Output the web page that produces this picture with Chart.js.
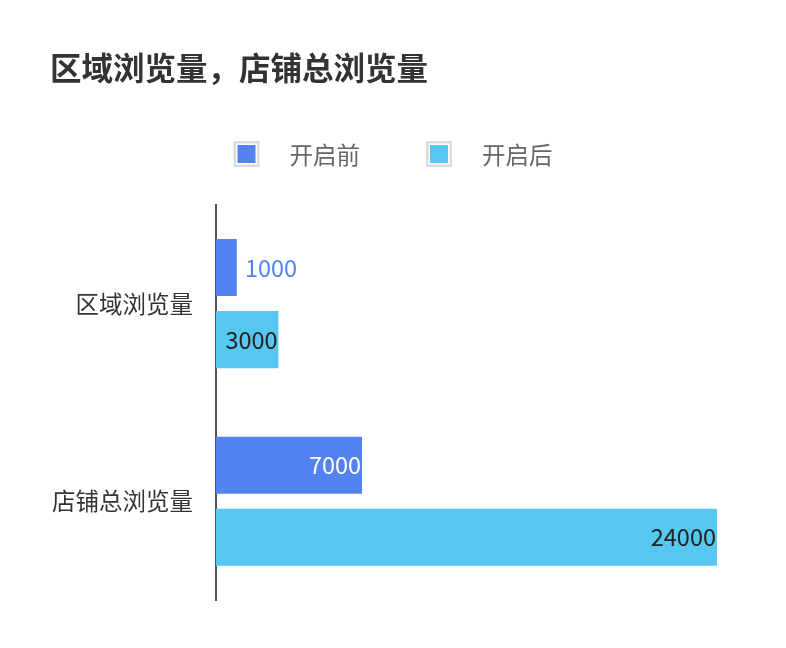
<!DOCTYPE html>
<html>
<head>
<meta charset="utf-8">
<script src="https://cdn.jsdelivr.net/npm/chart.js@4"></script>
<style>
  body { margin: 0; background: #fff; }
  #wrap { width: 786px; height: 648px; }
</style>
</head>
<body>
<div id="wrap"><canvas id="myChart"></canvas></div>
<script>
const categories = ["区域浏览量", "店铺总浏览量"];
const seriesNames = ["开启前", "开启后"];
const beforeValues = [1000, 7000];
const afterValues = [3000, 24000];
const axisMax = 24000;

const FONT = '"Noto Sans CJK SC", "Noto Sans", sans-serif';
const colors = ["#5283F0", "#55C7F1"];
const insideLabelColors = ["#ffffff", "#222222"];

// draws the value at the end of every bar
const valueLabels = {
  id: "valueLabels",
  afterDatasetsDraw(chart) {
    const ctx = chart.ctx;
    ctx.save();
    ctx.font = "23.5px " + FONT;
    ctx.textBaseline = "middle";
    chart.data.datasets.forEach((ds, i) => {
      chart.getDatasetMeta(i).data.forEach((bar, j) => {
        const text = String(ds.data[j]);
        const w = ctx.measureText(text).width;
        const barLen = bar.x - bar.base;
        if (barLen < w * 0.8) {
          ctx.fillStyle = ds.backgroundColor;
          ctx.textAlign = "left";
          ctx.fillText(text, bar.x + 8, bar.y);
        } else {
          ctx.fillStyle = insideLabelColors[i];
          ctx.textAlign = "right";
          ctx.fillText(text, bar.x - 1, bar.y);
        }
      });
    });
    ctx.restore();
  }
};

// legend with a grey frame round the colour box
const boxLegend = {
  id: "boxLegend",
  afterDraw(chart) {
    const ctx = chart.ctx;
    const box = 26, gapText = 30, gapItem = 66, cy = 154;
    ctx.save();
    ctx.font = "23.5px " + FONT;
    const items = chart.data.datasets.map(ds => ({
      label: ds.label, color: ds.backgroundColor, w: ctx.measureText(ds.label).width
    }));
    let total = 0;
    items.forEach((it, k) => { total += box + gapText + it.w + (k ? gapItem : 0); });
    let x = (chart.width - total) / 2;
    items.forEach(it => {
      ctx.strokeStyle = "#dcdcdc";
      ctx.lineWidth = 2.5;
      ctx.strokeRect(x + 1.25, cy - box / 2 + 1.25, box - 2.5, box - 2.5);
      ctx.fillStyle = it.color;
      ctx.fillRect(x + 4, cy - box / 2 + 4, box - 8, box - 8);
      ctx.fillStyle = "#666";
      ctx.textAlign = "left";
      ctx.textBaseline = "middle";
      ctx.fillText(it.label, x + box + gapText, cy + 1);
      x += box + gapText + it.w + gapItem;
    });
    ctx.restore();
  }
};

const gapBorder = { top: 7.5, bottom: 7.5, left: 0, right: 0 };

const ctx = document.getElementById("myChart");
new Chart(ctx, {
  type: "bar",
  data: {
    labels: categories,
    datasets: [
      {
        label: seriesNames[0],
        data: beforeValues,
        backgroundColor: colors[0],
        borderColor: "rgba(0,0,0,0)",
        borderWidth: gapBorder,
        borderSkipped: false,
      },
      {
        label: seriesNames[1],
        data: afterValues,
        backgroundColor: colors[1],
        borderColor: "rgba(0,0,0,0)",
        borderWidth: gapBorder,
        borderSkipped: false,
      },
    ],
  },
  options: {
    indexAxis: "y",
    responsive: true,
    maintainAspectRatio: false,
    animation: false,
    datasets: { bar: { categoryPercentage: 0.729, barPercentage: 1 } },
    layout: { padding: { left: 50, right: 69, bottom: 48, top: 0 } },
    plugins: {
      legend: { display: false },
      tooltip: { enabled: false },
      title: {
        display: true,
        text: "区域浏览量，店铺总浏览量",
        align: "start",
        color: "#333",
        font: { family: FONT, size: 31.5, weight: "bold" },
        padding: { top: 49, bottom: 118 },
      },
    },
    scales: {
      x: { display: false, min: 0, max: axisMax },
      y: {
        afterFit(scale) { scale.width = 166; },
        grid: { display: false, drawTicks: false },
        border: { display: true, color: "#555", width: 2 },
        ticks: { color: "#333", padding: 23, font: { family: FONT, size: 23.5 } },
      },
    },
  },
  plugins: [valueLabels, boxLegend],
});
</script>
</body>
</html>
